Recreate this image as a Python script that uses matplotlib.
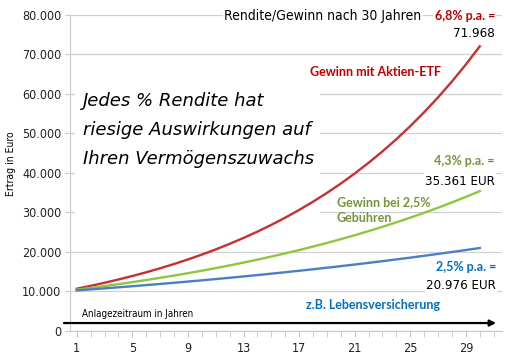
import matplotlib
matplotlib.use("Agg")
import matplotlib.pyplot as plt
from matplotlib.patches import Rectangle
from matplotlib.ticker import FuncFormatter, MultipleLocator

# Jahre und Endwerte je Zinssatz (Startkapital 10.000 EUR)
jahre = list(range(1, 31))
etf_68 = [10680, 11406, 12182, 13010, 13895, 14840, 15849, 16927, 18078, 19307,
          20620, 22022, 23520, 25119, 26827, 28651, 30600, 32680, 34903, 37276,
          39811, 42518, 45409, 48497, 51795, 55317, 59078, 63096, 67386, 71968]
gebuehr_43 = [10430, 10878, 11346, 11834, 12343, 12874, 13427, 14005, 14607, 15235,
              15890, 16573, 17286, 18029, 18804, 19613, 20456, 21336, 22253, 23210,
              24208, 25249, 26335, 27467, 28648, 29880, 31165, 32505, 33903, 35361]
lv_25 = [10250, 10506, 10769, 11038, 11314, 11597, 11887, 12184, 12489, 12801,
         13121, 13449, 13785, 14130, 14483, 14845, 15216, 15597, 15987, 16386,
         16796, 17216, 17646, 18087, 18539, 19003, 19478, 19965, 20464, 20976]
x_ticks = [1, 5, 9, 13, 17, 21, 25, 29]
y_ticks = [0, 10000, 20000, 30000, 40000, 50000, 60000, 70000, 80000]

narrow = dict(family="DejaVu Sans", stretch="condensed")
bold = ["Lato", "DejaVu Sans"]
rot = "#c8302e"
gruen = "#8dc63f"
blau = "#4a7fc8"

fig = plt.figure(figsize=(5.06, 3.57), dpi=100)
ax = fig.add_axes([0.138, 0.073, 0.854, 0.886])

ax.plot(jahre, etf_68, color=rot, lw=1.7, zorder=4)
ax.plot(jahre, gebuehr_43, color=gruen, lw=1.7, zorder=4)
ax.plot(jahre, lv_25, color=blau, lw=1.7, zorder=4)

ax.set_xlim(0.5, 31.6)
ax.set_ylim(0, 80000)
ax.set_xticks(x_ticks)
ax.xaxis.set_minor_locator(MultipleLocator(1))
ax.set_yticks(y_ticks)
ax.yaxis.set_major_formatter(FuncFormatter(lambda v, p: "0" if v == 0 else f"{int(v):,}".replace(",", ".")))
ax.grid(axis="y", color="#d0d0d0", lw=0.9, zorder=0)
ax.set_axisbelow(True)
for s in ["top", "right"]:
    ax.spines[s].set_visible(False)
for s in ["left", "bottom"]:
    ax.spines[s].set_color("#c8c8c8")
ax.tick_params(axis="y", which="major", length=3.5, color="#c8c8c8", pad=2.5)
ax.tick_params(axis="x", which="both", length=4, color="#c8c8c8", pad=4)
for lab in ax.get_xticklabels() + ax.get_yticklabels():
    lab.set_family("DejaVu Sans")
    lab.set_stretch("condensed")
    lab.set_fontsize(9)
    lab.set_color("#222222")
ax.set_ylabel("Ertrag in Euro", fontsize=7.5, **narrow)
ax.yaxis.set_label_coords(-0.125, 0.53)

# weisse Flaeche hinter dem Handschrift-Text
ax.add_patch(Rectangle((0.012, 0.335), 0.567, 0.475, transform=ax.transAxes,
                       facecolor="white", edgecolor="none", zorder=1))
ax.text(0.03, 0.635, "Jedes % Rendite hat\nriesige Auswirkungen auf\nIhren Vermögenszuwachs",
        transform=ax.transAxes, family="DejaVu Sans", style="italic", fontsize=13,
        linespacing=1.8, va="center", ha="left", zorder=2)

box = dict(facecolor="white", edgecolor="none", pad=1)
ax.text(0.586, 0.995, "Rendite/Gewinn nach 30 Jahren", transform=ax.transAxes,
        fontsize=10, ha="center", va="center", bbox=box, zorder=3, **narrow)
ax.text(0.914, 0.995, "6,8% p.a. =", transform=ax.transAxes, family=bold, weight="bold",
        fontsize=9, color="#c00000", ha="center", va="center", bbox=box, zorder=3)
ax.text(0.984, 0.94, "71.968", transform=ax.transAxes, fontsize=9.5,
        ha="right", va="center", bbox=box, zorder=3, **narrow)
ax.text(0.555, 0.818, "Gewinn mit Aktien-ETF", transform=ax.transAxes, family=bold,
        weight="bold", fontsize=9, color="#c00000", ha="left", va="center", zorder=3)
ax.text(0.912, 0.537, "4,3% p.a. =", transform=ax.transAxes, family=bold, weight="bold",
        fontsize=9, color="#77933c", ha="center", va="center", zorder=3)
ax.text(0.984, 0.474, "35.361 EUR", transform=ax.transAxes, fontsize=9.5,
        ha="right", va="center", bbox=box, zorder=3, **narrow)
ax.text(0.618, 0.382, "Gewinn bei 2,5%\nGebühren", transform=ax.transAxes, family=bold,
        weight="bold", fontsize=9, color="#77933c", ha="left", va="center",
        linespacing=1.45, zorder=3)
ax.text(0.917, 0.202, "2,5% p.a. =", transform=ax.transAxes, family=bold, weight="bold",
        fontsize=9, color="#0070c0", ha="center", va="center", zorder=3)
ax.text(0.986, 0.145, "20.976 EUR", transform=ax.transAxes, fontsize=9.5,
        ha="right", va="center", bbox=box, zorder=3, **narrow)
ax.text(0.547, 0.082, "z.B. Lebensversicherung", transform=ax.transAxes, family=bold,
        weight="bold", fontsize=9, color="#0070c0", ha="left", va="center", zorder=3)
ax.text(0.028, 0.054, "Anlagezeitraum in Jahren", transform=ax.transAxes,
        fontsize=7, ha="left", va="center", zorder=3, **narrow)

# Zeitachsen-Pfeil
ax.annotate("", xy=(0.993, 2000), xytext=(-0.02, 2000), xycoords=ax.get_yaxis_transform(),
            arrowprops=dict(arrowstyle="-|>", color="black", lw=1.6, mutation_scale=9),
            annotation_clip=False, zorder=5)

fig.savefig("out.png", dpi=100)
